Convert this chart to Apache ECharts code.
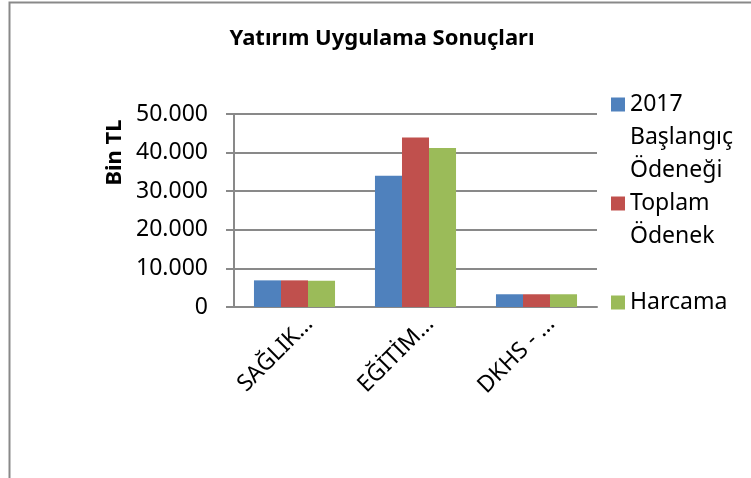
<!DOCTYPE html>
<html>
<head>
<meta charset="utf-8">
<script src="https://cdn.jsdelivr.net/npm/echarts@6/dist/echarts.min.js"></script>
<style>
  html, body { margin: 0; padding: 0; background: #fff; }
  #chart { width: 751px; height: 478px; }
</style>
</head>
<body>
<div id="chart"></div>
<script>
// veriler
const categories = ['SAĞLIK…', 'EĞİTİM…', 'DKHS - …']
const baslangicOdenegi = [6900, 34000, 3300]
const toplamOdenek = [6900, 43900, 3300]
const harcama = [6800, 41200, 3300]
const seriesNames = ['2017\nBaşlangıç\nÖdeneği', 'Toplam\nÖdenek\n', 'Harcama\n\n']
const yTicks = [0, 10000, 20000, 30000, 40000, 50000]

const font = 'Noto Sans'
const gray = '#898989'

// kare simge, 3 satirlik kutunun ilk satirina hizali
const legendIcon = 'path://M0,9.5h14v14h-14z M0,0l0,0 M0,99l0,0 M14,0l0,0'

const chart = echarts.init(document.getElementById('chart'))
chart.setOption({
  animation: false,
  textStyle: { fontFamily: font },
  title: {
    text: 'Yatırım Uygulama Sonuçları',
    left: 377, top: 23, textAlign: 'center',
    textStyle: { fontFamily: font, fontSize: 22, fontWeight: 'bold', color: '#000' }
  },
  legend: {
    orient: 'vertical',
    left: 611, top: 88,
    padding: 0,
    itemGap: 0,
    itemWidth: 14, itemHeight: 99,
    icon: legendIcon,
    textStyle: { fontFamily: font, fontSize: 23, lineHeight: 33, color: '#000' },
    data: seriesNames
  },
  grid: { left: 234, right: 154, top: 114, bottom: 171, containLabel: false },
  xAxis: {
    type: 'category',
    data: categories,
    axisLine: { lineStyle: { color: gray, width: 2 } },
    axisTick: { show: false },
    axisLabel: {
      rotate: 45, margin: 28, interval: 0,
      padding: [20, -21, 0, 0],
      fontFamily: font, fontSize: 23, color: '#000'
    }
  },
  yAxis: {
    type: 'value',
    min: yTicks[0], max: yTicks[yTicks.length - 1], interval: yTicks[1] - yTicks[0],
    name: 'Bin TL',
    nameLocation: 'middle',
    nameGap: 108,
    nameRotate: 90,
    nameTextStyle: { fontFamily: font, fontSize: 22, fontWeight: 'bold', color: '#000', padding: [0, 0, 0, 116] },
    axisLine: { show: true, lineStyle: { color: gray, width: 2 } },
    axisTick: { show: true, inside: false, length: 8, lineStyle: { color: gray, width: 2 } },
    splitLine: { lineStyle: { color: gray, width: 2 } },
    axisLabel: {
      margin: 26, fontFamily: font, fontSize: 23, color: '#000',
      formatter: v => String(v).replace(/\B(?=(\d{3})+(?!\d))/g, '.')
    }
  },
  graphic: [{
    type: 'polyline',
    shape: { points: [[9.5, 478], [9.5, 2.5], [751, 2.5]] },
    style: { stroke: gray, lineWidth: 2, fill: null }
  }],
  series: [
    { name: seriesNames[0], type: 'bar', data: baslangicOdenegi, barGap: 0, barCategoryGap: '33%', itemStyle: { color: '#4f81bd' } },
    { name: seriesNames[1], type: 'bar', data: toplamOdenek, barGap: 0, barCategoryGap: '33%', itemStyle: { color: '#c0504d' } },
    { name: seriesNames[2], type: 'bar', data: harcama, barGap: 0, barCategoryGap: '33%', itemStyle: { color: '#9bbb59' } }
  ]
})
</script>
</body>
</html>
